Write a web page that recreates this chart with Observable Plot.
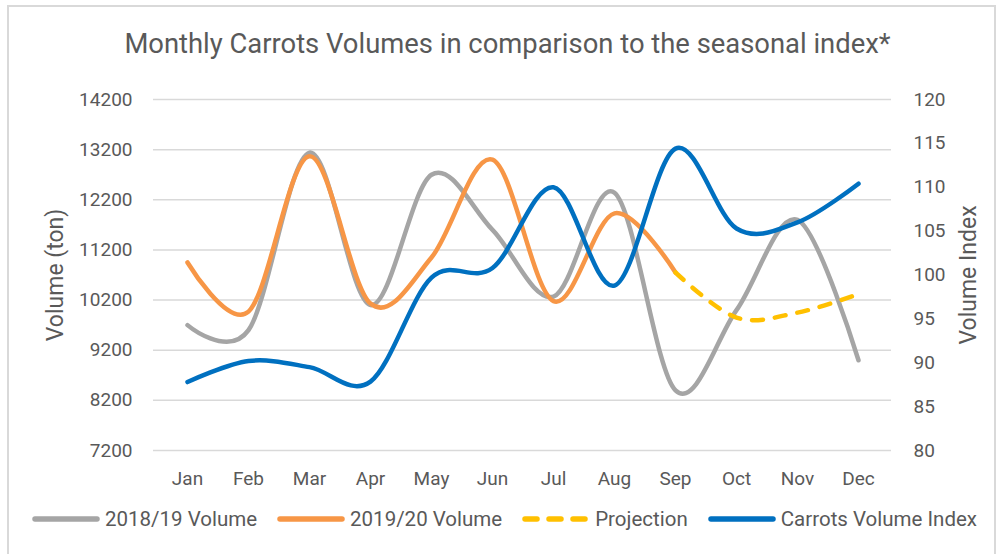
<!DOCTYPE html>
<html>
<head>
<meta charset="utf-8">
<script src="https://cdn.jsdelivr.net/npm/d3@7"></script>
<script src="https://cdn.jsdelivr.net/npm/@observablehq/plot@0.6"></script>
<style>
  html, body { margin: 0; padding: 0; background: #fff; }
  #wrap { position: relative; width: 1005px; height: 554px; overflow: hidden; font-family: Roboto, "Liberation Sans", sans-serif; color: #595959; }
  #frame { position: absolute; left: 7px; top: 5px; width: 989px; height: 580px; border: 2px solid #d9d9d9; box-sizing: border-box; }
  #title { position: absolute; left: 5px; top: 31px; width: 1005px; text-align: center; font-size: 27.4px; line-height: 27.4px; white-space: nowrap; }
  #chart { position: absolute; left: 0; top: 0; }
  #legend { position: absolute; left: 2px; top: 509px; width: 1005px; display: flex; justify-content: center; align-items: center; font-size: 20.5px; line-height: 20.5px; white-space: nowrap; }
  .item { display: flex; align-items: center; margin: 0 10px; }
  .item svg { margin-right: 5px; }
</style>
</head>
<body>
<div id="wrap">
  <div id="frame"></div>
  <div id="chart"></div>
  <div id="title">Monthly Carrots Volumes in comparison to the seasonal index*</div>
  <div id="legend"></div>
</div>
<script>
const months = ["Jan","Feb","Mar","Apr","May","Jun","Jul","Aug","Sep","Oct","Nov","Dec"];
const volume1819 = [9700, 9600, 13140, 10100, 12700, 11600, 10270, 12340, 8400, 10000, 11800, 9000];
const months1920 = ["Jan","Feb","Mar","Apr","May","Jun","Jul","Aug","Sep"];
const volume1920 = [10950, 9970, 13070, 10130, 11050, 13000, 10180, 11930, 10750];
const projectionMonths = ["Sep","Oct","Nov","Dec"];
const projection = [10750, 9850, 9950, 10320];
const volumeIndex = [87.8, 90.2, 89.5, 87.85, 99.7, 100.8, 110, 98.8, 114.4, 105.3, 106, 110.4];
const volumeTicks = [7200, 8200, 9200, 10200, 11200, 12200, 13200, 14200];
const indexTicks = [80, 85, 90, 95, 100, 105, 110, 115, 120];

const seriesNames = ["2018/19 Volume", "2019/20 Volume", "Projection", "Carrots Volume Index"];
const seriesColors = ["#a5a5a5", "#f79646", "#ffc000", "#0070c0"];

// map the right (index) axis onto the left (volume) axis
const volMin = 7200, volMax = 14200, idxMin = 80, idxMax = 120;
const k = (volMax - volMin) / (idxMax - idxMin);
const toVol = (i) => volMin + (i - idxMin) * k;
const fromVol = (v) => idxMin + (v - volMin) / k;

const rows1819 = months.map((m, i) => ({month: m, value: volume1819[i]}));
const rows1920 = months1920.map((m, i) => ({month: m, value: volume1920[i]}));
const rowsProj = projectionMonths.map((m, i) => ({month: m, value: projection[i]}));
const rowsIdx = months.map((m, i) => ({month: m, value: volumeIndex[i]}));

const lineOpts = {curve: "cardinal", tension: 0, strokeWidth: 4.5, strokeLinecap: "round", strokeLinejoin: "round"};

const chart = Plot.plot({
  width: 1005,
  height: 500,
  marginTop: 99,
  marginBottom: 50,
  marginLeft: 153,
  marginRight: 114,
  style: {fontFamily: "Roboto, 'Liberation Sans', sans-serif", fontSize: "19px", color: "#595959", background: "transparent"},
  x: {type: "point", domain: months, padding: 0.5, axis: null},
  y: {domain: [volMin, volMax], axis: null},
  marks: [
    Plot.gridY(volumeTicks, {stroke: "#d9d9d9", strokeOpacity: 1, strokeWidth: 1.5}),
    Plot.axisX({tickSize: 0, tickPadding: 21, label: null, fontSize: 19}),
    Plot.axisY(volumeTicks, {anchor: "left", tickSize: 0, tickPadding: 21, label: null, fontSize: 19,
      tickFormat: (v) => String(v)}),
    Plot.axisY(indexTicks.map(toVol), {anchor: "right", tickSize: 0, tickPadding: 22, label: null, fontSize: 19,
      tickFormat: (v) => String(Math.round(fromVol(v)))}),
    Plot.text(["Volume (ton)"], {text: (d) => d, frameAnchor: "left", textAnchor: "middle", dx: -98, rotate: -90, fontSize: 23, fill: "#595959"}),
    Plot.text(["Volume Index"], {text: (d) => d, frameAnchor: "right", textAnchor: "middle", dx: 77, rotate: -90, fontSize: 23, fill: "#595959"}),
    Plot.line(rows1819, {x: "month", y: "value", stroke: seriesColors[0], ...lineOpts}),
    Plot.line(rows1920, {x: "month", y: "value", stroke: seriesColors[1], ...lineOpts}),
    Plot.line(rowsProj, {x: "month", y: "value", stroke: seriesColors[2], ...lineOpts, strokeDasharray: "11,12"}),
    Plot.line(rowsIdx, {x: "month", y: (d) => toVol(d.value), stroke: seriesColors[3], ...lineOpts})
  ]
});
document.getElementById("chart").appendChild(chart);

// legend
const legend = document.getElementById("legend");
seriesNames.forEach((name, i) => {
  const item = document.createElement("div");
  item.className = "item";
  const dash = name === "Projection" ? ' stroke-dasharray="12,12"' : "";
  item.innerHTML = `<svg width="68" height="10"><line x1="3" y1="5" x2="65" y2="5" stroke="${seriesColors[i]}" stroke-width="5.5" stroke-linecap="round"${dash}></line></svg><span>${name}</span>`;
  legend.appendChild(item);
});
</script>
</body>
</html>
